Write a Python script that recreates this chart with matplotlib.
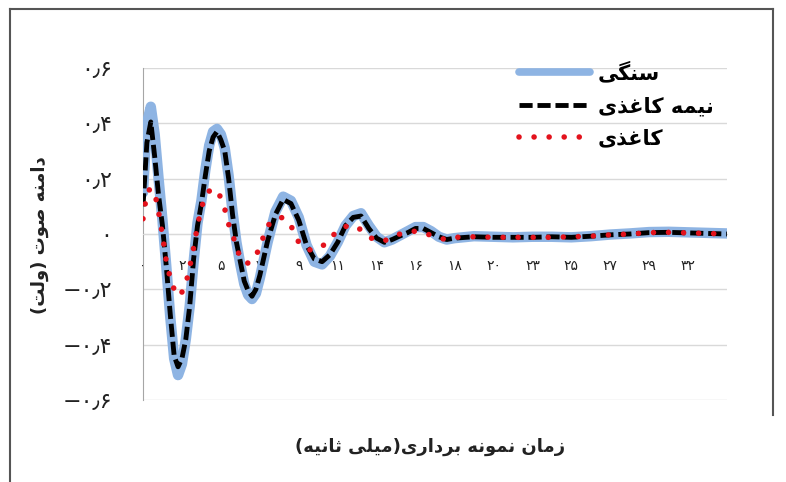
import numpy as np
import matplotlib
matplotlib.use('Agg')
import matplotlib.pyplot as plt
from matplotlib.lines import Line2D

# sample index (44.1 kHz), labels every 100 samples
samples = [0, 10, 20, 30, 40, 50, 60, 70, 80, 90, 100, 110, 120, 130, 140, 150,
           160, 170, 180, 190, 200, 210, 220, 230, 240, 250, 260, 270, 280, 290, 300,
           320, 340, 360, 380, 400, 420, 440, 460, 480, 500, 520, 540, 560, 580, 600,
           620, 640, 660, 680, 700, 720, 740, 760, 780, 800,
           850, 900, 950, 1000, 1050, 1100, 1150, 1200, 1250, 1300, 1350, 1400, 1450, 1500]

stone = [0.15, 0.40, 0.46, 0.36, 0.20, 0.05, -0.12, -0.30, -0.45, -0.51, -0.47, -0.38,
         -0.26, -0.10, 0.04, 0.12, 0.23, 0.32, 0.37, 0.38, 0.36, 0.31, 0.21, 0.08, -0.03,
         -0.11, -0.18, -0.22, -0.235, -0.215, -0.16,
         -0.03, 0.08, 0.135, 0.12, 0.06, -0.04, -0.10, -0.11, -0.08, -0.03, 0.03, 0.065,
         0.075, 0.03, -0.01, -0.03, -0.02, -0.005, 0.01, 0.025, 0.025, 0.01, -0.01, -0.02,
         -0.015,
         -0.008, -0.01, -0.012, -0.01, -0.01, -0.012, -0.008, -0.002, 0.002, 0.007, 0.008,
         0.006, 0.004, 0.002]

semi_paper = [0.10, 0.33, 0.405, 0.28, 0.14, 0.03, -0.12, -0.29, -0.44, -0.48, -0.45,
              -0.38, -0.26, -0.09, 0.03, 0.11, 0.21, 0.30, 0.35, 0.37, 0.34, 0.30, 0.20,
              0.07, -0.03, -0.10, -0.17, -0.205, -0.225, -0.20, -0.15,
              -0.025, 0.07, 0.125, 0.11, 0.05, -0.04, -0.09, -0.10, -0.075, -0.03, 0.03,
              0.06, 0.065, 0.02, -0.015, -0.03, -0.02, -0.007, 0.005, 0.02, 0.02, 0.005,
              -0.01, -0.02, -0.015,
              -0.01, -0.012, -0.012, -0.012, -0.01, -0.012, -0.008, -0.003, 0.0, 0.005,
              0.006, 0.004, 0.002, 0.0]

paper = [0.055, 0.15, 0.165, 0.15, 0.08, -0.005, -0.10, -0.16, -0.20, -0.225, -0.21,
         -0.18, -0.12, -0.05, 0.03, 0.095, 0.135, 0.155, 0.162, 0.16, 0.13, 0.09, 0.035,
         0.0, -0.05, -0.085, -0.105, -0.105, -0.095, -0.08, -0.045,
         0.03, 0.055, 0.06, 0.03, -0.03, -0.055, -0.06, -0.045, -0.02, 0.015, 0.027,
         0.033, 0.015, -0.01, -0.025, -0.025, -0.01, 0.0, 0.008, 0.01, 0.005, -0.005,
         -0.015, -0.02, -0.012,
         -0.01, -0.012, -0.012, -0.012, -0.012, -0.01, -0.008, -0.003, 0.0, 0.005, 0.006,
         0.004, 0.002, 0.0]

x_tick_samples = [0, 100, 200, 300, 400, 500, 600, 700, 800, 900, 1000, 1100, 1200, 1300, 1400]
x_tick_ms = [0, 2, 5, 7, 9, 11, 14, 16, 18, 20, 23, 25, 27, 29, 32]
y_ticks = [-0.6, -0.4, -0.2, 0.0, 0.2, 0.4, 0.6]

series_names = ['سنگی', 'نیمه کاغذی', 'کاغذی']
x_title = 'زمان نمونه برداری(میلی ثانیه)'
y_title = 'دامنه صوت (ولت)'

# --- minimal arabic/persian shaping (matplotlib has no text shaping) ---
FORMS = {
    'ا': ('\uFE8D', '\uFE8E', None, None),
    'ب': ('\uFE8F', '\uFE90', '\uFE91', '\uFE92'),
    'ت': ('\uFE95', '\uFE96', '\uFE97', '\uFE98'),
    'ث': ('\uFE99', '\uFE9A', '\uFE9B', '\uFE9C'),
    'د': ('\uFEA9', '\uFEAA', None, None),
    'ذ': ('\uFEAB', '\uFEAC', None, None),
    'ر': ('\uFEAD', '\uFEAE', None, None),
    'ز': ('\uFEAF', '\uFEB0', None, None),
    'س': ('\uFEB1', '\uFEB2', '\uFEB3', '\uFEB4'),
    'ص': ('\uFEB9', '\uFEBA', '\uFEBB', '\uFEBC'),
    'غ': ('\uFECD', '\uFECE', '\uFECF', '\uFED0'),
    'ل': ('\uFEDD', '\uFEDE', '\uFEDF', '\uFEE0'),
    'م': ('\uFEE1', '\uFEE2', '\uFEE3', '\uFEE4'),
    'ن': ('\uFEE5', '\uFEE6', '\uFEE7', '\uFEE8'),
    'ه': ('\uFEE9', '\uFEEA', '\uFEEB', '\uFEEC'),
    'و': ('\uFEED', '\uFEEE', None, None),
    'ک': ('\uFB8E', '\uFB8F', '\uFB90', '\uFB91'),
    'گ': ('\uFB92', '\uFB93', '\uFB94', '\uFB95'),
    'ی': ('\uFBFC', '\uFBFD', '\uFBFE', '\uFBFF'),
}
MIRROR = {'(': ')', ')': '('}


def shape(text):
    out = []
    for i, ch in enumerate(text):
        if ch not in FORMS:
            out.append(MIRROR.get(ch, ch))
            continue
        prev = text[i - 1] if i > 0 else ''
        nxt = text[i + 1] if i + 1 < len(text) else ''
        join_prev = prev in FORMS and FORMS[prev][2] is not None
        join_next = FORMS[ch][2] is not None and nxt in FORMS
        iso, fin, ini, med = FORMS[ch]
        if join_prev and join_next:
            out.append(med)
        elif join_prev:
            out.append(fin)
        elif join_next:
            out.append(ini)
        else:
            out.append(iso)
    return ''.join(reversed(out))


FA_DIGITS = str.maketrans('0123456789', '۰۱۲۳۴۵۶۷۸۹')


def fa_num(v):
    if v == 0:
        return '۰'
    s = '{:.1f}'.format(abs(v)).translate(FA_DIGITS).replace('.', '٫')
    return ('−' if v < 0 else '') + s


plt.rcParams['font.family'] = ['DejaVu Sans']

fig = plt.figure(figsize=(7.86, 4.82), dpi=100)
fig.patch.set_facecolor('white')
ax = fig.add_axes([143 / 786, 1 - 400 / 482, (727 - 143) / 786, (400 - 68) / 482])

BLUE = '#8EB4E3'
RED = '#E3121C'
ax.plot(samples, stone, color=BLUE, lw=7.5, solid_capstyle='round',
        solid_joinstyle='round', zorder=3)
ax.plot(samples, semi_paper, color='black', lw=3.5, linestyle=(0, (2.7, 1.0)),
        dash_capstyle='butt', zorder=4)
ax.plot(samples, paper, color=RED, lw=4.0, linestyle=(0, (0.01, 2.7)),
        dash_capstyle='round', zorder=5)

ax.set_xlim(0, 1500)
ax.set_ylim(-0.6, 0.6)

ax.set_yticks(y_ticks)
ax.set_yticklabels([fa_num(v) for v in y_ticks], fontsize=16)
ax.yaxis.grid(True, color='#D9D9D9', lw=1.0)
ax.set_axisbelow(True)

ax.set_xticks(x_tick_samples)
ax.set_xticklabels([str(v).translate(FA_DIGITS) for v in x_tick_ms], fontsize=16)
ax.spines['bottom'].set_position(('data', 0))
ax.spines['bottom'].set_color('#D9D9D9')
ax.spines['top'].set_visible(False)
ax.spines['right'].set_visible(False)
ax.spines['left'].set_color('#A6A6A6')
ax.tick_params(axis='x', length=0, pad=18, colors='#222222')
ax.tick_params(axis='y', length=0, pad=22, colors='#222222')

fig.text(430 / 786, 1 - 447 / 482, shape(x_title), ha='center', va='center',
         fontsize=13, fontweight='bold', color='#222222')
fig.text(40 / 786, 1 - 235 / 482, shape(y_title), ha='center', va='center',
         rotation=90, fontsize=13, fontweight='bold', color='#222222')

handles = [
    Line2D([], [], color=BLUE, lw=5.5, solid_capstyle='round'),
    Line2D([], [], color='black', lw=3.5, linestyle=(0, (2.7, 1.0)), dash_capstyle='butt'),
    Line2D([], [], color=RED, lw=4.0, linestyle=(0, (0.01, 2.7)), dash_capstyle='round'),
]
ax.legend(handles, [shape(n) for n in series_names], loc='upper left',
          bbox_to_anchor=(500 / 786, 1 - 43 / 482), bbox_transform=fig.transFigure,
          frameon=False, handlelength=3.4, handletextpad=0.4, labelspacing=0.6,
          prop={'weight': 'bold', 'size': 15})

# chart area border (left and top edges, right edge down the upper part)
border = dict(color='#555555', lw=1.5, transform=fig.transFigure)
fig.add_artist(Line2D([10 / 786, 10 / 786], [0, 1 - 9 / 482], **border))
fig.add_artist(Line2D([10 / 786, 773 / 786], [1 - 9 / 482, 1 - 9 / 482], **border))
fig.add_artist(Line2D([773 / 786, 773 / 786], [1 - 415 / 482, 1 - 9 / 482], **border))

fig.savefig('out.png', dpi=100)
